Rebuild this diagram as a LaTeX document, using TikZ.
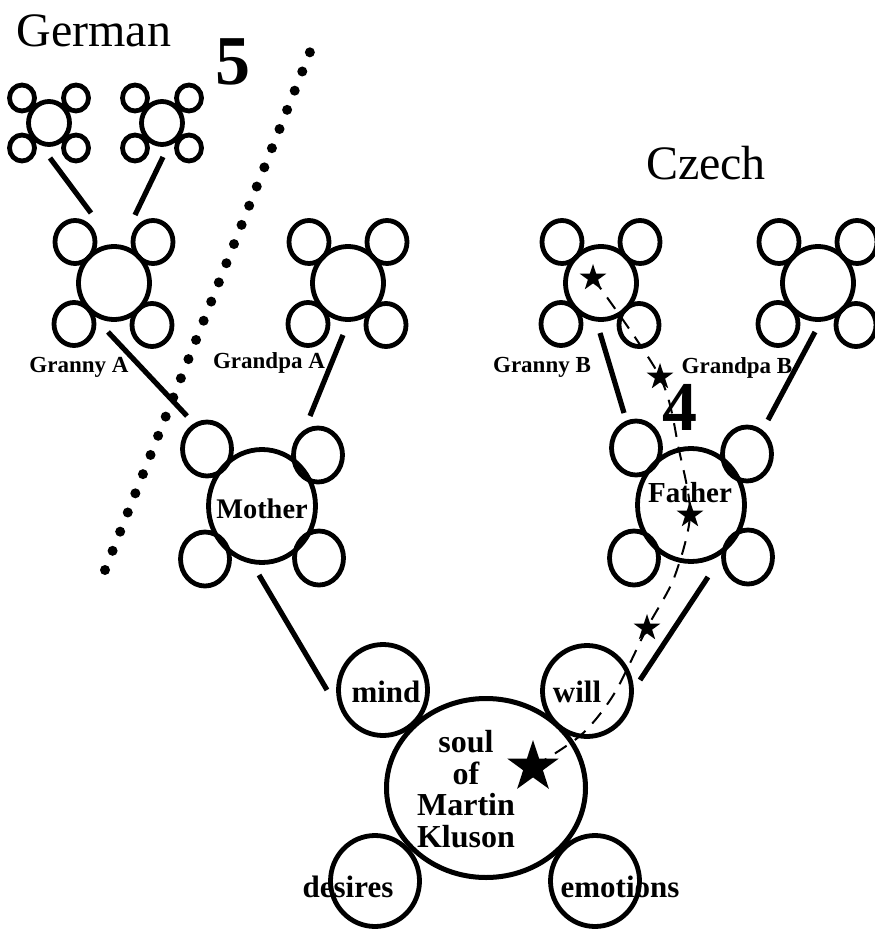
\documentclass[tikz,border=0pt]{standalone}
\usepackage{fontspec}
\setmainfont{Liberation Serif}
\usetikzlibrary{shapes.geometric}

\tikzset{
  ring/.style={ellipse, draw, line width=2.4pt, inner sep=0pt},
  ggring/.style={ring, minimum width=20.5pt, minimum height=21.5pt},
  ggdot/.style={ring, minimum width=12.5pt, minimum height=13pt},
  gring/.style={ring, minimum width=35.5pt, minimum height=36.5pt},
  gdot/.style={ring, minimum width=20pt, minimum height=21.5pt},
  pring/.style={ring, minimum width=53.5pt, minimum height=56.5pt},
  pdot/.style={ring, minimum width=24.5pt, minimum height=27pt},
  trait/.style={ring, minimum width=44.5pt, minimum height=45.5pt},
  soulring/.style={ring, line width=2.5pt, minimum width=99.5pt, minimum height=89.5pt},
  link/.style={line width=2.6pt},
  who/.style={font=\bfseries\fontsize{11.5}{12}\selectfont, anchor=base, inner sep=0pt},
  word/.style={font=\bfseries\fontsize{15.5}{16}\selectfont, anchor=base, inner sep=0pt},
  lang/.style={font=\fontsize{24}{26}\selectfont, anchor=base, inner sep=0pt},
  num/.style={font=\bfseries\fontsize{35}{36}\selectfont, anchor=base, inner sep=0pt},
  starnode/.style={star, star points=5, star point ratio=2.6, fill=black, inner sep=0pt, minimum size=14pt},
  trail/.style={line width=1pt, dash pattern=on 7pt off 5pt},
  dots/.style={line width=5pt, line cap=round, dash pattern=on 0pt off 10.31pt}
}

\begin{document}
\begin{tikzpicture}[x=0.5pt, y=-0.5pt]
    \useasboundingbox (0,0) rectangle (874,930);
    \foreach \n/\x in {ggA/49, ggB/162} {
      \node[ggring] (\n) at (\x,123) {};
      \foreach \dx/\dy/\c in {-27/-25/nw, 27/-25/ne, -27/25/sw, 27/25/se}
        \node[ggdot] (\n\c) at ([shift={(\dx,\dy)}]\n.center) {};
    }
    \foreach \n/\x in {granA/114, granpaA/348, granB/601, granpaB/818} {
      \node[gring] (\n) at (\x,283) {};
      \foreach \dx/\dy/\c in {-39/-41/nw, 39/-41/ne, -40/41/sw, 38/42/se}
        \node[gdot] (\n\c) at ([shift={(\dx,\dy)}]\n.center) {};
    }
    \node[pring] (mother) at (262,506) {};
    \node[pring] (father) at (691,505) {};
    \foreach \n in {mother, father}
      \foreach \dx/\dy/\c in {-55/-57/nw, 56/-51/ne, -57/53/sw, 57/52/se}
        \node[pdot] (\n\c) at ([shift={(\dx,\dy)}]\n.center) {};
    \node[soulring] (soul) at (486,788) {};
    \node[trait] (mind) at (383,690) {};
    \node[trait] (will) at (587,691) {};
    \node[trait] (desires) at (375,881) {};
    \node[trait] (emotions) at (595,881) {};

    \draw[link] ([shift={(1,35)}]ggA.center) -- ([shift={(-23,-70)}]granA.center);
    \draw[link] ([shift={(1,34)}]ggB.center) -- ([shift={(21,-68)}]granA.center);
    \draw[link] ([shift={(-6,49)}]granA.center) -- ([shift={(-75,-90)}]mother.center);
    \draw[link] ([shift={(-5,52)}]granpaA.center) -- ([shift={(48,-90)}]mother.center);
    \draw[link] ([shift={(-1,50)}]granB.center) -- ([shift={(-67,-92)}]father.center);
    \draw[link] ([shift={(-3,49)}]granpaB.center) -- ([shift={(77,-85)}]father.center);
    \draw[link] ([shift={(-3,69)}]mother.center) -- ([shift={(-56,0)}]mind.center);
    \draw[link] ([shift={(17,72)}]father.center) -- ([shift={(53,-11)}]will.center);

    \draw[dots] (105,570) -- (310,52);

    \node[lang] (german) at (94,47) {German};
    \node[lang] (czech) at (706,180) {Czech};
    \node[num] (five) at (233,85) {5};
    \node[num] (four) at (680,430) {4};
    \node[who] (grannyA) at (79,372) {Granny A};
    \node[who] (grandpaA) at (269,368) {Grandpa A};
    \node[who] (grannyB) at (542,372) {Granny B};
    \node[who] (grandpaB) at (737,373) {Grandpa B};
    \node[word, font=\bfseries\fontsize{14.2}{15}\selectfont] (mothertxt) at (262,518) {Mother};
    \node[word, font=\bfseries\fontsize{14.5}{15}\selectfont] (fathertxt) at (690,502) {Father};
    \node[word] (mindtxt) at (386,702) {mind};
    \node[word] (willtxt) at (577,702) {will};
    \node[word] (desirestxt) at (348,897) {desires};
    \node[word] (emotionstxt) at (620,897) {emotions};
    \node[word, anchor=center, align=center, font=\bfseries\fontsize{16}{15.7}\selectfont] (soultxt) at (466,789) {soul\\of\\Martin\\Kluson};

    \node[starnode] (s1) at (593,278) {};
    \node[starnode] (s2) at (660,377) {};
    \node[starnode] (s3) at (690,515) {};
    \node[starnode] (s4) at (647,628) {};
    \node[starnode, minimum size=27pt] (s5) at (533,767) {};
    \draw[trail] plot[smooth, tension=0.5] coordinates {(s1.center) (s2.center) (679,450) (s3.center) (674,578) (s4.center) (614,694) (581,735) (s5.center)};
\end{tikzpicture}
\end{document}
